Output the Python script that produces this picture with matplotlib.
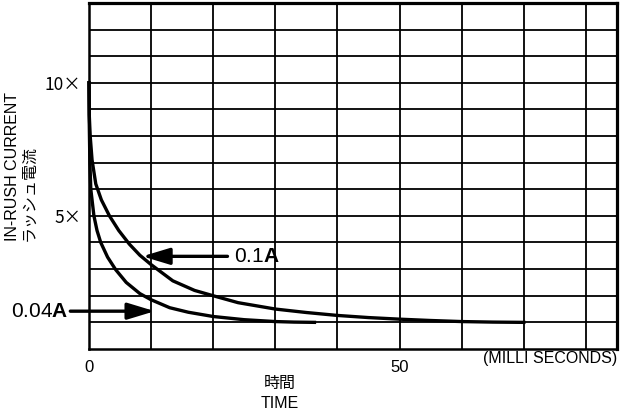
import matplotlib
matplotlib.use("Agg")
import matplotlib.pyplot as plt

plt.rcParams['font.family'] = ['Liberation Sans', 'Noto Sans CJK JP']
plt.rcParams['mathtext.fontset'] = 'custom'
plt.rcParams['mathtext.rm'] = 'Liberation Sans'
plt.rcParams['mathtext.bf'] = 'Liberation Sans:bold'

# in-rush current curves (time in ms, multiple of rated current)
t_01 = [0, 0.05, 0.2, 0.5, 1.1, 2, 3.3, 4.8, 6.5, 8.2, 10, 13.5, 17, 20, 24, 30,
        35, 40, 45, 50, 55, 60, 65, 70]
i_01 = [10, 8.8, 8.0, 7.1, 6.2, 5.6, 5.0, 4.45, 3.94, 3.52, 3.17, 2.56, 2.2, 2.0,
        1.74, 1.5, 1.37, 1.26, 1.18, 1.12, 1.07, 1.03, 1.01, 1.0]

t_004 = [0, 0.05, 0.15, 0.3, 0.8, 1.3, 1.9, 3, 4.3, 6, 8.2, 10, 13, 16, 20, 25,
         30, 33, 36.3]
i_004 = [10, 8.5, 7.0, 6.0, 5.0, 4.45, 4.0, 3.45, 2.98, 2.5, 2.08, 1.85, 1.55, 1.38,
         1.22, 1.1, 1.03, 1.01, 1.0]

x_ticks = [0, 50]
x_ticklabels = ['0', '50']
y_ticks = [5, 10]
y_ticklabels = ['5×', '10×']

fig = plt.figure(figsize=(6.22, 4.13), dpi=100)
ax = fig.add_axes([0.143, 0.155, 0.849, 0.838])

ax.set_xlim(0, 85)
ax.set_ylim(0, 13)

# grid
for gx in range(10, 85, 10):
    ax.axvline(gx, color='black', lw=1.3, zorder=1)
for gy in range(1, 13):
    ax.axhline(gy, color='black', lw=1.3, zorder=1)

for side in ['left', 'bottom']:
    ax.spines[side].set_linewidth(1.8)
for side in ['top', 'right']:
    ax.spines[side].set_linewidth(2.3)

ax.plot(t_01, i_01, color='black', lw=2.4, zorder=3, clip_on=False)
ax.plot(t_004, i_004, color='black', lw=2.4, zorder=3, clip_on=False)

ax.set_xticks(x_ticks)
ax.set_xticklabels(x_ticklabels, fontsize=12)
ax.set_yticks(y_ticks)
ax.set_yticklabels(y_ticklabels, fontsize=12.5, family=['Noto Sans CJK JP'])
ax.tick_params(axis='x', length=0, pad=8)
ax.tick_params(axis='y', length=0, pad=5.5)

arrow = dict(arrowstyle='-|>,head_length=1.65,head_width=0.5', color='black', lw=2.4,
             shrinkA=0, shrinkB=0)
ax.annotate('', xy=(8.6, 3.48), xytext=(22.3, 3.48), arrowprops=arrow, zorder=4)
ax.text(23.3, 3.48, r'0.1$\mathbf{A}$', fontsize=15, va='center', ha='left')

ax.annotate('', xy=(10.6, 1.42), xytext=(-3.0, 1.42), arrowprops=arrow,
            annotation_clip=False, zorder=4)
ax.text(-3.4, 1.42, r'0.04$\mathbf{A}$', fontsize=15, va='center', ha='right',
        clip_on=False)

fig.text(0.992, 0.133, '(MILLI SECONDS)', fontsize=11.5, ha='right', va='center')
fig.text(0.450, 0.047, '時間\nTIME', fontsize=11.5, ha='center', va='center',
         linespacing=1.4)
fig.text(0.033, 0.598, 'IN-RUSH CURRENT\nラッシュ電流', fontsize=11.5, rotation=90,
         ha='center', va='center', linespacing=1.15, multialignment='left')

fig.savefig('out.png', dpi=100)
